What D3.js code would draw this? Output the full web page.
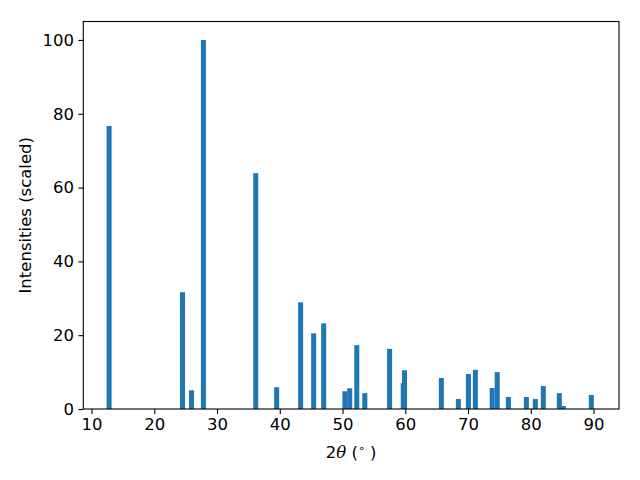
<!DOCTYPE html>
<html>
<head>
<meta charset="utf-8">
<script src="https://cdn.jsdelivr.net/npm/d3@7"></script>
<style>
  body { margin: 0; background: #fff; }
  svg { display: block; font-family: "DejaVu Sans", sans-serif; }
</style>
</head>
<body>
<svg id="chart" width="640" height="480"></svg>
<script>
const angles = [12.8, 24.5, 25.94, 27.83, 36.17, 39.5, 43.32, 45.4, 47.0, 50.38, 51.15, 52.27, 53.55, 57.5, 59.68, 59.88, 65.75, 68.46, 70.06, 71.17, 73.85, 74.65, 76.43, 79.3, 80.73, 82.0, 84.55, 85.2, 89.65];
const intensities = [76.7, 31.65, 5.07, 100, 63.9, 5.9, 28.9, 20.5, 23.2, 4.8, 5.6, 17.3, 4.3, 16.3, 7.0, 10.5, 8.4, 2.7, 9.5, 10.6, 5.7, 10.0, 3.25, 3.25, 2.7, 6.2, 4.3, 0.8, 3.8];
const xTicks = [10, 20, 30, 40, 50, 60, 70, 80, 90];
const yTicks = [0, 20, 40, 60, 80, 100];
const barWidth = 0.8;

const svg = d3.select("#chart");
const L = 83.3, R = 619, T = 21.5, B = 409;
const x = d3.scaleLinear().domain([8.69, 94.06]).range([L, R]);
const y = d3.scaleLinear().domain([0, 105]).range([B, T]);

const data = angles.map((a, i) => ({a, v: intensities[i]}));

svg.append("g").selectAll("rect").data(data).join("rect")
  .attr("x", d => x(d.a - barWidth / 2))
  .attr("width", d => x(d.a + barWidth / 2) - x(d.a - barWidth / 2))
  .attr("y", d => y(d.v))
  .attr("height", d => y(0) - y(d.v))
  .attr("fill", "#1f77b4");

const fs = "16.5px";
const xAxis = svg.append("g").attr("transform", `translate(0,${B})`)
  .call(d3.axisBottom(x).tickValues(xTicks).tickSize(4.9).tickPadding(4.5).tickFormat(d3.format("d")));
const yAxis = svg.append("g").attr("transform", `translate(${L},0)`)
  .call(d3.axisLeft(y).tickValues(yTicks).tickSize(4.9).tickPadding(4.5).tickFormat(d3.format("d")));
[xAxis, yAxis].forEach(g => {
  g.select(".domain").remove();
  g.selectAll("line").attr("stroke", "#000").attr("stroke-width", 1.1);
  g.selectAll("text").attr("font-size", fs).attr("fill", "#000")
    .attr("font-family", "DejaVu Sans, sans-serif");
});

svg.append("rect").attr("x", L).attr("y", T).attr("width", R - L).attr("height", B - T)
  .attr("fill", "none").attr("stroke", "#000").attr("stroke-width", 1.1);

const xl = svg.append("text").attr("x", (L + R) / 2).attr("y", 458)
  .attr("text-anchor", "middle").attr("font-size", fs).attr("fill", "#000");
xl.append("tspan").text("2");
xl.append("tspan").attr("font-style", "italic").attr("font-family", "DejaVu Serif, serif").text("θ");
xl.append("tspan").text(" (");
xl.append("tspan").attr("font-size", "11px").attr("dy", -6).text("∘");
xl.append("tspan").attr("dy", 6).text(" )");

svg.append("text").attr("transform", `translate(31,${(T + B) / 2}) rotate(-90)`)
  .attr("text-anchor", "middle").attr("font-size", fs).attr("fill", "#000")
  .text("Intensities (scaled)");
</script>
</body>
</html>
